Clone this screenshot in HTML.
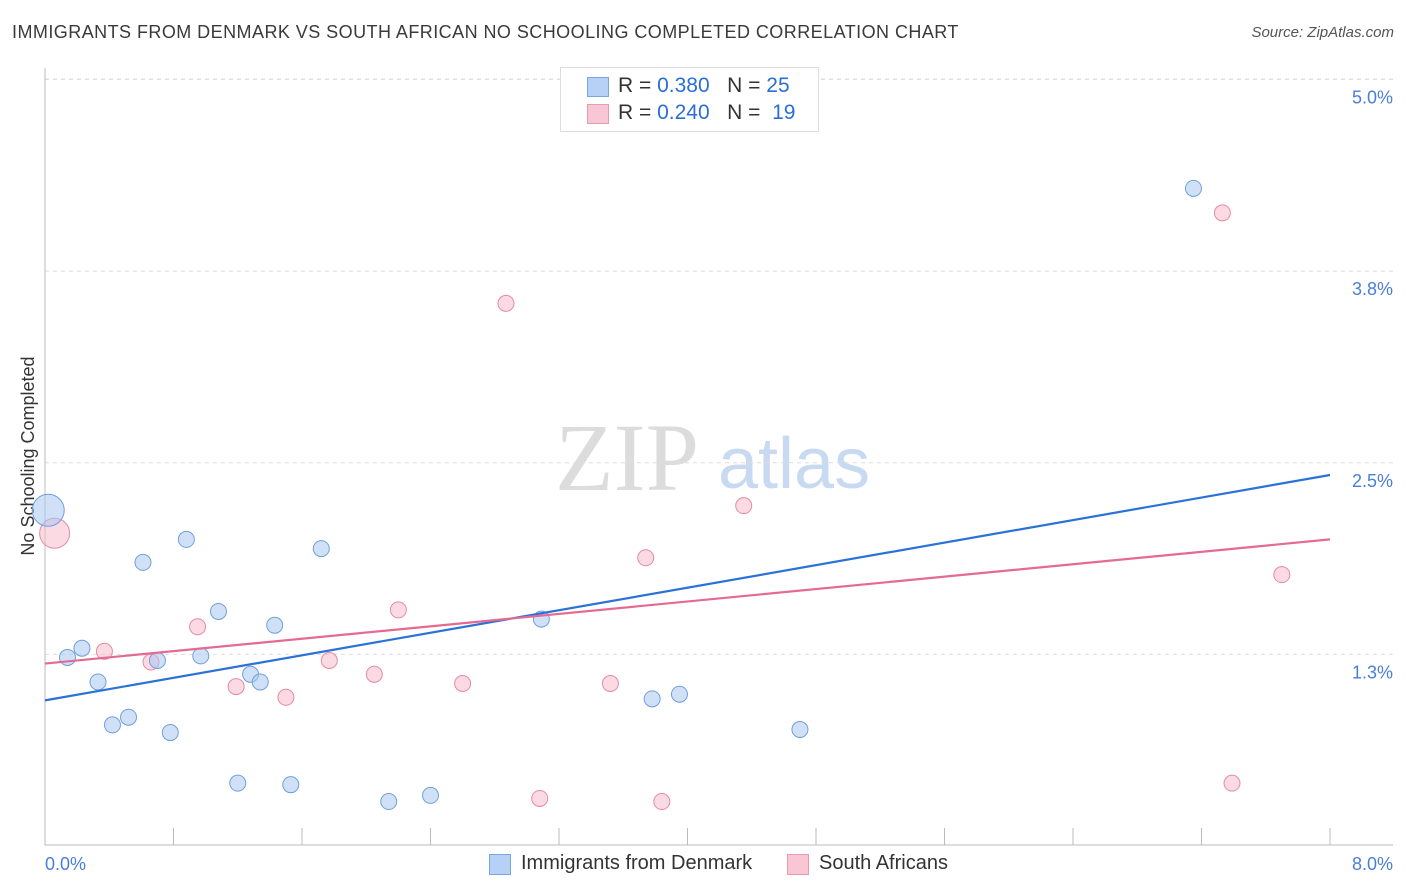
<!DOCTYPE html>
<html><head><meta charset="utf-8">
<style>
body{margin:0;background:#fff;font-family:"Liberation Sans",sans-serif;}
#wrap{position:relative;width:1406px;height:892px;overflow:hidden;}
.t{position:absolute;white-space:nowrap;}
</style></head>
<body>
<div id="wrap">
<div class="t" style="left:12px;top:22px;font-size:18px;letter-spacing:0.45px;color:#3a3a3a;">IMMIGRANTS FROM DENMARK VS SOUTH AFRICAN NO SCHOOLING COMPLETED CORRELATION CHART</div>
<div class="t" style="right:12px;top:24px;font-size:15px;color:#555;font-style:italic;">Source: ZipAtlas.com</div>
<svg id="plot" width="1406" height="892" style="position:absolute;left:0;top:0"></svg>
</div>
<script>
const blueX=[0.02,0.14,0.23,0.33,0.42,0.52,0.61,0.70,0.78,0.88,0.97,1.08,1.20,1.28,1.34,1.43,1.53,1.72,2.14,2.40,3.09,3.78,3.95,4.70,7.15];
const blueY=[2.19,1.23,1.29,1.07,0.79,0.84,1.85,1.21,0.74,2.00,1.24,1.53,0.41,1.12,1.07,1.44,0.40,1.94,0.29,0.33,1.48,0.96,0.99,0.76,4.29];
const pinkX=[0.06,0.37,0.66,0.95,1.19,1.50,1.77,2.05,2.20,2.60,2.87,3.08,3.52,3.74,3.84,4.35,7.33,7.39,7.70];
const pinkY=[2.04,1.27,1.20,1.43,1.04,0.97,1.21,1.12,1.54,1.06,3.54,0.31,1.06,1.88,0.29,2.22,4.13,0.41,1.77];
const blueTrend=[0.95,2.42];
const pinkTrend=[1.19,2.00];
const yTicks=[1.25,2.5,3.75,5.0];
const yTickLabels=["1.3%","2.5%","3.8%","5.0%"];
const xTickCount=10;

const X0=45,X1=1330,Y0=846,PXPER=153.3;
const sx=v=>X0+(v/8)*(X1-X0);
const sy=v=>Y0-v*PXPER;
const svg=document.getElementById('plot');
const NS='http://www.w3.org/2000/svg';
function mk(tag,attrs){const e=document.createElementNS(NS,tag);for(const k in attrs)e.setAttribute(k,attrs[k]);svg.appendChild(e);return e;}

let wm=mk('text',{x:555,y:490,'font-size':96,fill:'#dcdcdc','font-family':'Liberation Serif, serif'});wm.textContent='ZIP';


let wm2=mk('text',{x:718,y:488,'font-size':72,fill:'#c8daf2','font-family':'Liberation Sans, sans-serif'});wm2.textContent='atlas';



mk('line',{x1:X0,y1:79,x2:1393,y2:79,stroke:'#ddd','stroke-dasharray':'4,4'});
yTicks.forEach((v,i)=>{
  const g=mk('line',{x1:X0,y1:sy(v),x2:1393,y2:sy(v),stroke:'#ddd','stroke-dasharray':'4,4'});
  
  
  const t=mk('text',{x:1393,y:sy(v)+24,'text-anchor':'end','font-size':18,fill:'#4a7fd6'});
  t.textContent=yTickLabels[i];
  
  
});
mk('line',{x1:X0,y1:68,x2:X0,y2:845,stroke:'#bbb'});
mk('line',{x1:X0,y1:845,x2:1393,y2:845,stroke:'#bbb'});
for(let i=0;i<=xTickCount;i++){
  const x=sx(i*8/xTickCount);
  const tk=mk('line',{x1:x,y1:828,x2:x,y2:845,stroke:'#bbb'});
  
  
}
let xl=mk('text',{x:45,y:870,'font-size':18,fill:'#4a7fd6'});xl.textContent='0.0%';


let xr=mk('text',{x:1393,y:870,'text-anchor':'end','font-size':18,fill:'#4a7fd6'});xr.textContent='8.0%';


let yt=mk('text',{x:34,y:456,'text-anchor':'middle','font-size':18,fill:'#333',transform:'rotate(-90 34 456)'});yt.textContent='No Schooling Completed';



function pts(xs,ys,fill,stroke,name){
  xs.forEach((v,i)=>{
    const r=i===0?(name==='blue-point'?16:15):8;
    const c=mk('circle',{cx:sx(v),cy:sy(ys[i]),r:r,fill:fill,'fill-opacity':0.55,stroke:stroke,'stroke-width':1});
    
    
  });
}
pts(pinkX,pinkY,'#f8bccd','#e68aa6','pink-point');
pts(blueX,blueY,'#a9c8f0','#6f9fdc','blue-point');
let bl=mk('line',{x1:sx(0),y1:sy(blueTrend[0]),x2:sx(8),y2:sy(blueTrend[1]),stroke:'#2a72d8','stroke-width':2.2});


let pl=mk('line',{x1:sx(0),y1:sy(pinkTrend[0]),x2:sx(8),y2:sy(pinkTrend[1]),stroke:'#e46a92','stroke-width':2.2});


</script>

<div style="position:absolute;left:560px;top:67px;width:257px;height:63px;border:1px solid #ddd;background:#fff;font-size:21px;color:#333;">
  <div style="position:absolute;left:26px;top:9px;width:20px;height:18px;background:#b7d0f5;border:1px solid #7aa6e0;"></div>
  <div class="t" style="left:57px;top:6px;">R = <span style="color:#2a6fd6">0.380</span>&nbsp;&nbsp;&nbsp;N = <span style="color:#2a6fd6">25</span></div>
  <div style="position:absolute;left:26px;top:36px;width:20px;height:18px;background:#f9c6d5;border:1px solid #e89ab0;"></div>
  <div class="t" style="left:57px;top:33px;">R = <span style="color:#2a6fd6">0.240</span>&nbsp;&nbsp;&nbsp;N = <span style="color:#2a6fd6">&nbsp;19</span></div>
</div>

<div style="position:absolute;left:489px;top:852px;font-size:20px;color:#333;">
  <div style="position:absolute;left:0;top:2px;width:20px;height:19px;background:#b7d0f5;border:1px solid #7aa6e0;"></div>
  <div class="t" style="left:32px;top:0;">Immigrants from Denmark</div>
</div>
<div style="position:absolute;left:787px;top:852px;font-size:20px;color:#333;">
  <div style="position:absolute;left:0;top:2px;width:20px;height:19px;background:#f9c6d5;border:1px solid #e89ab0;"></div>
  <div class="t" style="left:32px;top:0;">South Africans</div>
</div>
</body></html>
